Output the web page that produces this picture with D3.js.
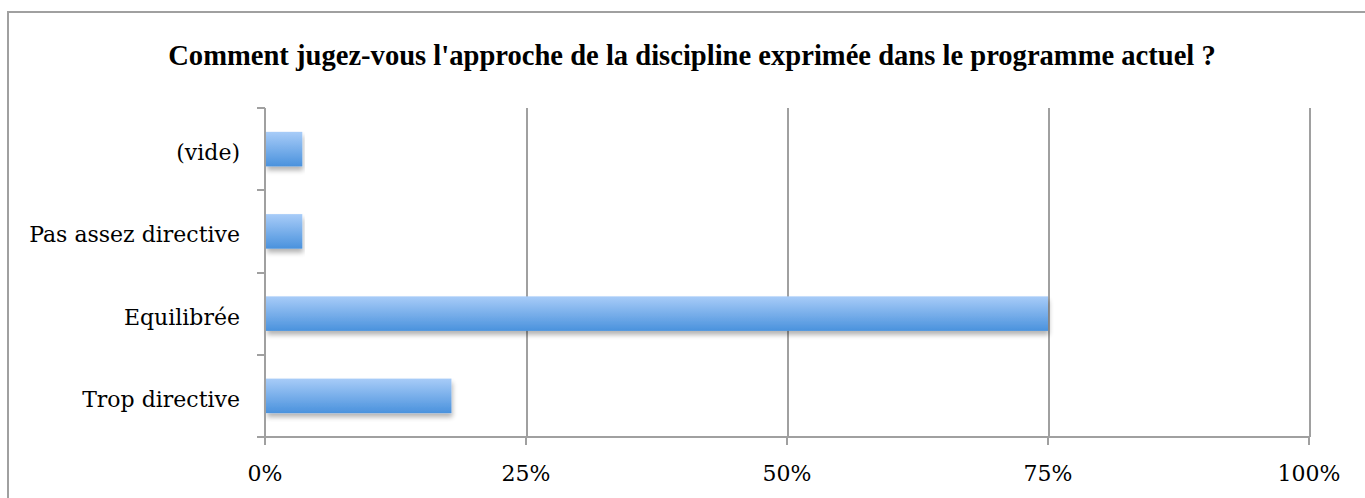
<!DOCTYPE html>
<meta charset="utf-8">
<style>
  body { margin: 0; background: #fff; }
  text { font-family: "DejaVu Serif", "Liberation Serif", serif; fill: #000; }
  .title { font-family: "Liberation Serif", serif; }
  .grid line { stroke: #a0a0a0; stroke-width: 2px; shape-rendering: crispEdges; }
  .grid path { stroke-width: 0; }
  .axis path, .axis line { stroke: #a0a0a0; stroke-width: 2px; shape-rendering: crispEdges; }
</style>
<script src="https://d3js.org/d3.v7.min.js"></script>
<div id="chart"></div>
<script>
  var chartTitle = "Comment jugez-vous l'approche de la discipline exprimée dans le programme actuel ?"
  var categories = ["(vide)", "Pas assez directive", "Equilibrée", "Trop directive"]
  var shares = [1/28, 1/28, 21/28, 5/28]
  var tickValues = [0, 0.25, 0.5, 0.75, 1]

  var W = 1365, H = 498
  var margin = {top: 108, right: 56, bottom: 61, left: 265},
      width = W - margin.left - margin.right,
      height = H - margin.top - margin.bottom;

  var root = d3.select("#chart").append("svg")
      .attr("width", W)
      .attr("height", H)

  var defs = root.append("defs")
  var grad = defs.append("linearGradient")
      .attr("id", "barGrad")
      .attr("x1", 0).attr("y1", 0).attr("x2", 0).attr("y2", 1)
  grad.append("stop").attr("offset", "0%").attr("stop-color", "#a8ccf8")
  grad.append("stop").attr("offset", "100%").attr("stop-color", "#4a92dd")

  var shadow = defs.append("filter").attr("id", "shadow")
      .attr("x", "-5%").attr("y", "-20%").attr("width", "110%").attr("height", "160%")
  shadow.append("feGaussianBlur").attr("in", "SourceAlpha").attr("stdDeviation", 2.5)
  shadow.append("feOffset").attr("dx", 1).attr("dy", 4).attr("result", "off")
  shadow.append("feComponentTransfer").append("feFuncA").attr("type", "linear").attr("slope", 0.3)
  var merge = shadow.append("feMerge")
  merge.append("feMergeNode")
  merge.append("feMergeNode").attr("in", "SourceGraphic")

  // frame
  root.append("rect")
      .attr("x", 8).attr("y", 12)
      .attr("width", W).attr("height", H)
      .attr("fill", "none")
      .attr("stroke", "#a0a0a0")
      .attr("stroke-width", 2)

  // title, sized to span the same width as the original
  var title = root.append("text")
      .attr("class", "title")
      .attr("x", 692)
      .attr("y", 65)
      .attr("text-anchor", "middle")
      .style("font-weight", "bold")
      .style("font-size", "20px")
      .text(chartTitle)
  var tw = title.node().getComputedTextLength()
  title.style("font-size", (20 * 1048 / tw) + "px")

  var svg = root.append("g")
      .attr("transform", "translate(" + margin.left + "," + margin.top + ")")

  var x = d3.scaleLinear().domain([0, 1]).range([0, width])
  var y = d3.scaleBand().domain(categories).range([0, height]).paddingInner(0.58).paddingOuter(0.29)
  var band = d3.scaleBand().domain(categories).range([0, height])

  // vertical grid
  svg.append("g")
      .attr("class", "grid")
      .call(d3.axisBottom(x).tickValues(tickValues.slice(1)).tickSize(height).tickFormat(""))

  // bars
  svg.append("g")
    .selectAll("rect")
    .data(categories)
    .enter().append("rect")
      .attr("x", x(0) + 1)
      .attr("y", function(d) { return y(d) })
      .attr("width", function(d, i) { return x(shares[i]) - x(0) - 1 })
      .attr("height", y.bandwidth())
      .attr("fill", "url(#barGrad)")
      .attr("filter", "url(#shadow)")

  // y axis
  var yAxis = svg.append("g")
      .attr("class", "axis")
  yAxis.append("line")
      .attr("x1", 0).attr("x2", 0).attr("y1", 0).attr("y2", height)
  var yTicks = [0].concat(categories.map(function(d) { return band(d) + band.bandwidth() }))
  yAxis.selectAll(".yt")
    .data(yTicks)
    .enter().append("line")
      .attr("x1", -8).attr("x2", 0)
      .attr("y1", function(d) { return d }).attr("y2", function(d) { return d })
  yAxis.selectAll(".ylab")
    .data(categories)
    .enter().append("text")
      .attr("x", -25)
      .attr("y", function(d) { return band(d) + band.bandwidth() / 2 })
      .attr("dy", "0.5em")
      .attr("text-anchor", "end")
      .style("font-size", "22px")
      .text(function(d) { return d })

  // x axis
  var xAxis = svg.append("g")
      .attr("class", "axis")
      .attr("transform", "translate(0," + height + ")")
  xAxis.append("line")
      .attr("x1", 0).attr("x2", width).attr("y1", 0).attr("y2", 0)
  xAxis.selectAll(".xt")
    .data(tickValues)
    .enter().append("line")
      .attr("x1", function(d) { return x(d) }).attr("x2", function(d) { return x(d) })
      .attr("y1", 0).attr("y2", 8)
  xAxis.selectAll(".xlab")
    .data(tickValues)
    .enter().append("text")
      .attr("x", function(d) { return x(d) })
      .attr("y", 44)
      .attr("text-anchor", "middle")
      .style("font-size", "22px")
      .text(function(d) { return d3.format(".0%")(d) })
</script>
